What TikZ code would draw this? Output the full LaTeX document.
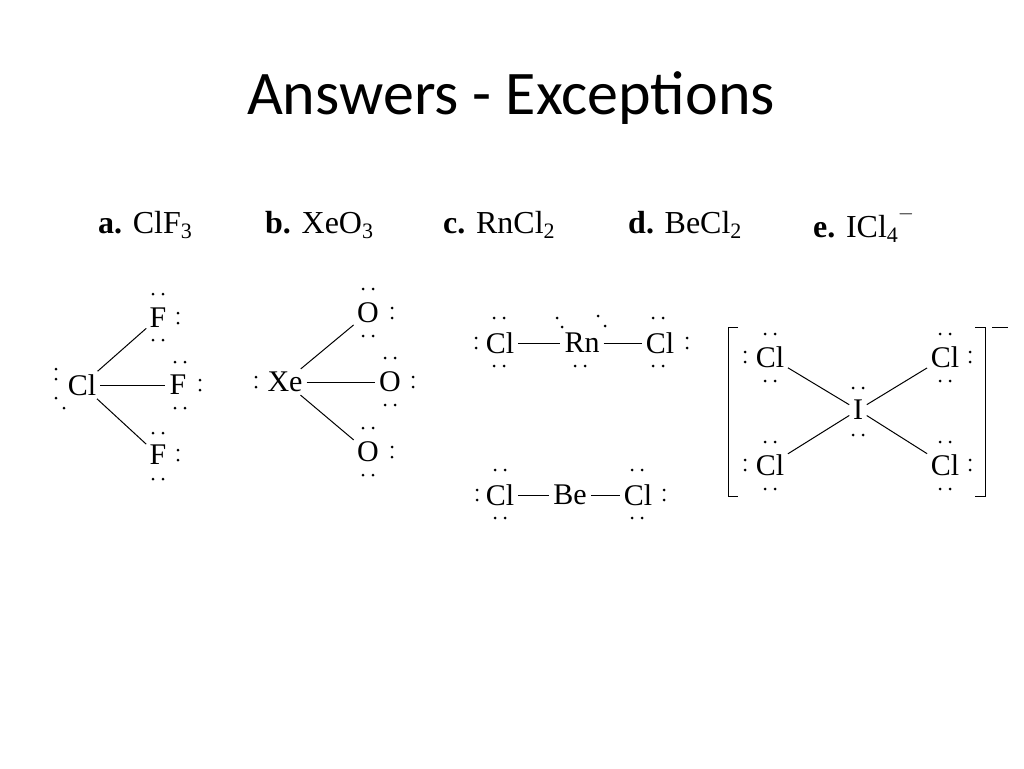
\documentclass[tikz,border=0pt]{standalone}
\usepackage{fontspec}
\setmainfont{Liberation Serif}
\newfontfamily\titlefont{Carlito}
\tikzset{
  atom/.style={inner sep=1pt, font=\fontsize{30}{32}\selectfont},
  head/.style={anchor=west, inner sep=0pt, font=\fontsize{32}{34}\selectfont},
  bond/.style={line width=1pt, shorten >=3pt, shorten <=3pt}
}
% pair of lone-pair dots
\newcommand{\hpair}[2]{\fill (#1-5,#2) circle (1.5) (#1+5,#2) circle (1.5);}
\newcommand{\vpair}[2]{\fill (#1,#2-5) circle (1.5) (#1,#2+5) circle (1.5);}
\newcommand{\sub}[1]{\raisebox{-0.35ex}{\fontsize{22}{22}\selectfont #1}}
\begin{document}
\begin{tikzpicture}[x=1pt,y=-1pt]
  \useasboundingbox (0,0) rectangle (1024,768);
  \node[font=\titlefont\fontsize{62}{64}\selectfont] (title) at (511,98) {Answers - Exceptions};

  % headings
  \node[head] (ha) at (98,225) {\textbf{a.} ClF\sub{3}};
  \node[head] (hb) at (265,225) {\textbf{b.} XeO\sub{3}};
  \node[head] (hc) at (443,225) {\textbf{c.} RnCl\sub{2}};
  \node[head] (hd) at (628,225) {\textbf{d.} BeCl\sub{2}};
  \node[head] (he) at (813,225) {\textbf{e.} ICl\sub{4}\raisebox{1.2ex}{\fontsize{22}{22}\selectfont$-$}};

  % a. ClF3
  \node[atom] (cla) at (82,385) {Cl};
  \node[atom] (fa1) at (158,318) {F};
  \node[atom] (fa2) at (178,385) {F};
  \node[atom] (fa3) at (158,455) {F};
  \draw[bond] (cla) -- (fa1);
  \draw[bond] (cla) -- (fa2);
  \draw[bond] (cla) -- (fa3);
  \vpair{56}{374} \fill (56,398) circle (1.5) (64,408) circle (1.5);
  \hpair{158}{294} \vpair{178}{318} \hpair{158}{340}
  \hpair{180}{362} \vpair{200}{385} \hpair{180}{408}
  \hpair{158}{433} \vpair{178}{455} \hpair{158}{479}

  % b. XeO3
  \node[atom] (xe) at (285,382) {Xe};
  \node[atom] (ob1) at (368,313) {O};
  \node[atom] (ob2) at (390,382) {O};
  \node[atom] (ob3) at (368,452) {O};
  \draw[bond] (xe) -- (ob1);
  \draw[bond] (xe) -- (ob2);
  \draw[bond] (xe) -- (ob3);
  \vpair{256}{382}
  \hpair{368}{289} \vpair{392}{313} \hpair{368}{336}
  \hpair{390}{358} \vpair{413}{382} \hpair{390}{405}
  \hpair{368}{428} \vpair{392}{452} \hpair{368}{475}

  % c. RnCl2
  \node[atom] (clc1) at (500,343) {Cl};
  \node[atom] (rn) at (582,343) {Rn};
  \node[atom] (clc2) at (660,343) {Cl};
  \draw[bond] (clc1) -- (rn);
  \draw[bond] (rn) -- (clc2);
  \vpair{476}{343} \hpair{499}{318} \hpair{499}{366}
  \fill (557,318) circle (1.5) (562,327) circle (1.5) (598,316) circle (1.5) (605,326) circle (1.5);
  \hpair{580}{366}
  \hpair{658}{318} \hpair{658}{366} \vpair{687}{343}

  % d. BeCl2
  \node[atom] (cld1) at (500,495) {Cl};
  \node[atom] (be) at (570,495) {Be};
  \node[atom] (cld2) at (638,495) {Cl};
  \draw[bond] (cld1) -- (be);
  \draw[bond] (be) -- (cld2);
  \vpair{477}{495} \hpair{500}{470} \hpair{500}{518}
  \hpair{637}{470} \hpair{637}{518} \vpair{664}{495}

  % e. ICl4-
  \node[atom] (io) at (858,410) {I};
  \node[atom] (cle1) at (770,357) {Cl};
  \node[atom] (cle2) at (945,357) {Cl};
  \node[atom] (cle3) at (770,465) {Cl};
  \node[atom] (cle4) at (945,465) {Cl};
  \draw[bond] (cle1) -- (io);
  \draw[bond] (cle2) -- (io);
  \draw[bond] (cle3) -- (io);
  \draw[bond] (cle4) -- (io);
  \hpair{858}{388} \hpair{858}{435}
  \vpair{745}{357} \hpair{770}{334} \hpair{770}{381}
  \vpair{970}{357} \hpair{945}{334} \hpair{945}{381}
  \vpair{745}{465} \hpair{770}{442} \hpair{770}{489}
  \vpair{970}{465} \hpair{945}{442} \hpair{945}{489}
  \draw[line width=1pt] (738,327) -- (728,327) -- (728,496) -- (738,496);
  \draw[line width=1pt] (975,327) -- (985,327) -- (985,496) -- (975,496);
  \draw[line width=1pt] (992,327) -- (1008,327);
\end{tikzpicture}
\end{document}
